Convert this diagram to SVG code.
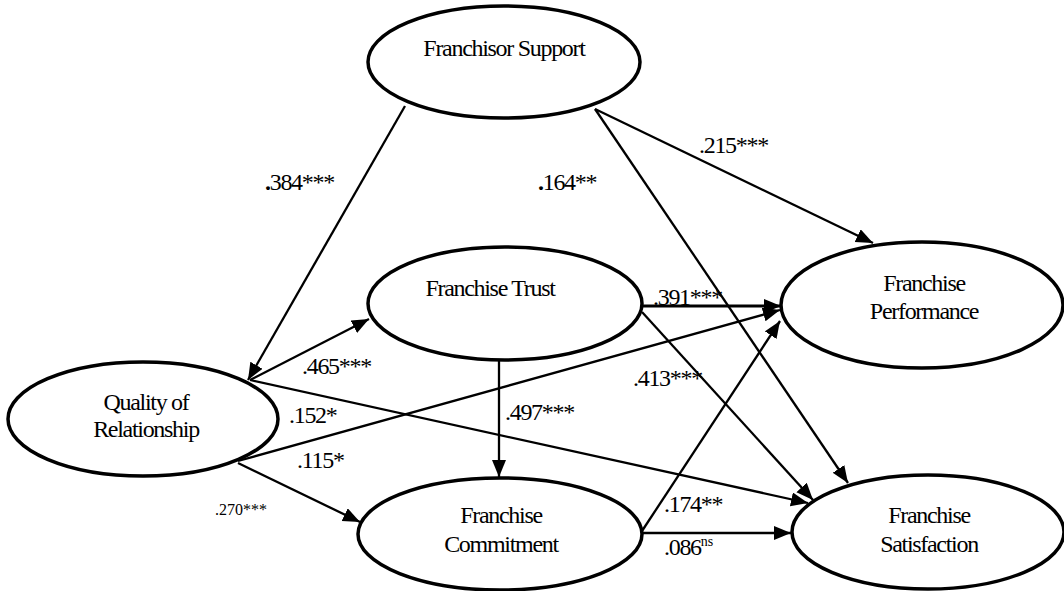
<svg xmlns="http://www.w3.org/2000/svg" width="1064" height="591" viewBox="0 0 1064 591">
<style>
.node ellipse{fill:#fff;stroke:#000;stroke-width:3.5}
.node text{font-family:"Liberation Serif","Times New Roman",serif;font-size:24px;letter-spacing:-1.3px;text-anchor:middle;fill:#000}
.lbl{font-family:"Liberation Serif","Times New Roman",serif;font-size:24px;letter-spacing:-1.3px;fill:#000}
.small{font-size:16px;letter-spacing:0}
#connectors line{stroke:#000;stroke-width:2.3;fill:none;marker-end:url(#arr)}
#connectors line.thick{stroke-width:3.2}
</style>
<defs>
<marker id="arr" markerUnits="userSpaceOnUse" markerWidth="18" markerHeight="15" refX="17" refY="7" orient="auto">
<path d="M0,0 L17,7 L0,14 Z" fill="#000"/>
</marker>
</defs>
<rect width="1064" height="591" fill="#fff"/>
<g id="connectors">
<line x1="405" y1="106" x2="248" y2="380"/>
<line x1="250" y1="380" x2="369" y2="319"/>
<line x1="250" y1="380" x2="808" y2="503"/>
<line x1="238" y1="461" x2="780" y2="310"/>
<line x1="238" y1="463" x2="360" y2="522"/>
<line x1="595" y1="109" x2="873" y2="243"/>
<line x1="595" y1="109" x2="848" y2="483"/>
<line class="thick" x1="642" y1="306" x2="781" y2="306"/>
<line x1="642" y1="312" x2="813" y2="500"/>
<line x1="499" y1="361" x2="499" y2="477"/>
<line x1="642" y1="531" x2="780" y2="321"/>
<line x1="642" y1="533" x2="791" y2="533"/>
</g>
<g id="support" class="node">
<ellipse cx="504" cy="62" rx="136" ry="56"/>
<text x="504" y="56">Franchisor Support</text>
</g>
<g id="trust" class="node">
<ellipse cx="505" cy="303.5" rx="137" ry="56.5"/>
<text x="490" y="296">Franchise Trust</text>
</g>
<g id="quality" class="node">
<ellipse cx="143" cy="419" rx="135" ry="57"/>
<text x="146" y="410">Quality of</text>
<text x="146" y="437">Relationship</text>
</g>
<g id="commitment" class="node">
<ellipse cx="500" cy="534" rx="142" ry="56"/>
<text x="501" y="523">Franchise</text>
<text x="501" y="552">Commitment</text>
</g>
<g id="performance" class="node">
<ellipse cx="922" cy="305" rx="141" ry="63"/>
<text x="924" y="291">Franchise</text>
<text x="924" y="319">Performance</text>
</g>
<g id="satisfaction" class="node">
<ellipse cx="928" cy="532" rx="136" ry="57"/>
<text x="929" y="523">Franchise</text>
<text x="929" y="552">Satisfaction</text>
</g>
<g id="labels">
<text class="lbl" x="265" y="190"><tspan font-weight="bold">.</tspan>384***</text>
<text class="lbl" x="538" y="190"><tspan font-weight="bold">.</tspan>164**</text>
<text class="lbl" x="699" y="153">.215***</text>
<text class="lbl" x="653" y="305">.391***</text>
<text class="lbl" x="302" y="374">.465***</text>
<text class="lbl" x="633" y="386">.413***</text>
<text class="lbl" x="289" y="423">.152*</text>
<text class="lbl" x="297" y="468">.115*</text>
<text class="lbl" x="505" y="420">.497***</text>
<text class="lbl small" x="215" y="515">.270***</text>
<text class="lbl" x="664" y="512">.174**</text>
<text class="lbl" x="664" y="555">.086<tspan font-size="14" letter-spacing="0" dy="-9">ns</tspan></text>
</g>
</svg>
